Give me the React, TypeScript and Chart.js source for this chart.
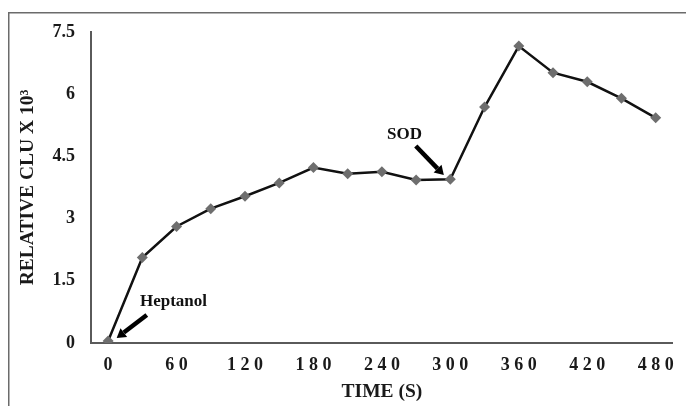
import React, { useEffect, useRef } from "react";
import { Chart, registerables } from "chart.js";

Chart.register(...registerables);

const times = ["0", "30", "60", "90", "120", "150", "180", "210", "240", "270", "300", "330", "360", "390", "420", "450", "480"];
const clu = [0.05, 2.06, 2.81, 3.24, 3.54, 3.86, 4.23, 4.08, 4.13, 3.93, 3.95, 5.69, 7.16, 6.52, 6.3, 5.9, 5.43];
const xTickLabels = ["0", "60", "120", "180", "240", "300", "360", "420", "480"];
const yMin = 0;
const yMax = 7.5;
const yStep = 1.5;
const xTitle = "TIME (S)";
const yTitle = "RELATIVE CLU X 10\u00B3";

const notes = [
  { text: "Heptanol", tx: 0.93, ty: 1.01, fx: 1.13, fy: 0.675, ex: 0.25, ey: 0.12 },
  { text: "SOD", tx: 8.15, ty: 5.02, fx: 8.99, fy: 4.75, ex: 9.81, ey: 4.05 },
];

const FONT = "'Liberation Serif', 'Times New Roman', serif";

const framePlugin = {
  id: "frame",
  beforeDraw(chart: any) {
    const ctx = chart.ctx;
    ctx.save();
    ctx.strokeStyle = "#6b6b6b";
    ctx.lineWidth = 1.5;
    ctx.beginPath();
    ctx.moveTo(8.75, 406);
    ctx.lineTo(8.75, 12.75);
    ctx.lineTo(686, 12.75);
    ctx.stroke();
    ctx.restore();
  },
};

const notePlugin = {
  id: "notes",
  afterDatasetsDraw(chart: any) {
    const ctx = chart.ctx;
    const xs = chart.scales.x;
    const ys = chart.scales.y;
    ctx.save();
    for (const n of notes) {
      ctx.fillStyle = "#111";
      ctx.font = `bold 17px ${FONT}`;
      ctx.textAlign = "left";
      ctx.textBaseline = "middle";
      ctx.fillText(n.text, xs.getPixelForValue(n.tx), ys.getPixelForValue(n.ty));
      const x1 = xs.getPixelForValue(n.fx);
      const y1 = ys.getPixelForValue(n.fy);
      const x2 = xs.getPixelForValue(n.ex);
      const y2 = ys.getPixelForValue(n.ey);
      const ang = Math.atan2(y2 - y1, x2 - x1);
      const head = 9;
      const hx = x2 - Math.cos(ang) * head;
      const hy = y2 - Math.sin(ang) * head;
      ctx.strokeStyle = "#000";
      ctx.lineWidth = 4.5;
      ctx.beginPath();
      ctx.moveTo(x1, y1);
      ctx.lineTo(hx, hy);
      ctx.stroke();
      ctx.fillStyle = "#000";
      ctx.beginPath();
      ctx.moveTo(x2, y2);
      ctx.lineTo(hx + Math.cos(ang + Math.PI / 2) * 5.5, hy + Math.sin(ang + Math.PI / 2) * 5.5);
      ctx.lineTo(hx + Math.cos(ang - Math.PI / 2) * 5.5, hy + Math.sin(ang - Math.PI / 2) * 5.5);
      ctx.closePath();
      ctx.fill();
    }
    ctx.restore();
  },
};

export default function App() {
  const ref = useRef<HTMLCanvasElement | null>(null);
  useEffect(() => {
    if (!ref.current) return;
    const chart = new Chart(ref.current, {
      type: "line",
      data: {
        labels: times,
        datasets: [
          {
            data: clu,
            borderColor: "#111",
            borderWidth: 2.5,
            pointStyle: "rectRot",
            pointRadius: 5.5,
            pointBackgroundColor: "#6e6e6e",
            pointBorderColor: "#6e6e6e",
            pointBorderWidth: 0,
            tension: 0,
            fill: false,
          },
        ],
      },
      options: {
        animation: false,
        responsive: true,
        maintainAspectRatio: false,
        layout: { padding: { left: 8, right: 11, top: 32, bottom: 0 } },
        plugins: { legend: { display: false }, tooltip: { enabled: false } },
        scales: {
          x: {
            type: "category",
            offset: true,
            grid: { display: false, drawTicks: false },
            border: { display: true, color: "#5a5a5a", width: 2 },
            ticks: {
              autoSkip: false,
              maxRotation: 0,
              padding: 12,
              color: "#1a1a1a",
              font: { family: FONT, size: 18, weight: "bold" },
              callback: (_v: any, i: number) =>
                xTickLabels.includes(times[i]) ? times[i].split("").join(" ") : "",
            },
            title: {
              display: true,
              text: xTitle,
              color: "#1a1a1a",
              font: { family: FONT, size: 19.5, weight: "bold" },
              padding: { top: 0, bottom: 2 },
            },
            afterFit: (s: any) => {
              s.height = 63;
            },
          },
          y: {
            min: yMin,
            max: yMax,
            grid: { display: false, drawTicks: false },
            border: { display: true, color: "#5a5a5a", width: 2 },
            ticks: {
              stepSize: yStep,
              padding: 16,
              color: "#1a1a1a",
              font: { family: FONT, size: 18, weight: "bold" },
              callback: (v: any) => String(v),
            },
            title: {
              display: true,
              text: yTitle,
              color: "#1a1a1a",
              font: { family: FONT, size: 19.5, weight: "bold" },
              padding: { top: 8, bottom: 0 },
            },
            afterFit: (s: any) => {
              s.width = 83;
            },
          },
        },
      },
      plugins: [framePlugin, notePlugin],
    } as any);
    return () => chart.destroy();
  }, []);
  return (
    <div style={{ position: "absolute", left: 0, top: 0, width: 686, height: 406, background: "#fff" }}>
      <canvas ref={ref} />
    </div>
  );
}
